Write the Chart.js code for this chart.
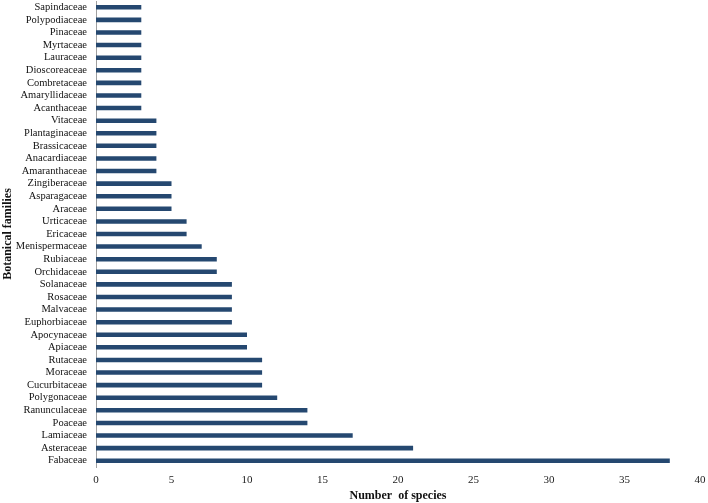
<!DOCTYPE html>
<html>
<head>
<meta charset="utf-8">
<script src="https://cdn.jsdelivr.net/npm/chart.js@4"></script>
<style>
html,body{margin:0;padding:0;background:#fff;}
#wrap{width:708px;height:503px;}
</style>
</head>
<body>
<div id="wrap"><canvas id="c"></canvas></div>
<script>
const families = ["Sapindaceae","Polypodiaceae","Pinaceae","Myrtaceae","Lauraceae","Dioscoreaceae","Combretaceae","Amaryllidaceae","Acanthaceae","Vitaceae","Plantaginaceae","Brassicaceae","Anacardiaceae","Amaranthaceae","Zingiberaceae","Asparagaceae","Araceae","Urticaceae","Ericaceae","Menispermaceae","Rubiaceae","Orchidaceae","Solanaceae","Rosaceae","Malvaceae","Euphorbiaceae","Apocynaceae","Apiaceae","Rutaceae","Moraceae","Cucurbitaceae","Polygonaceae","Ranunculaceae","Poaceae","Lamiaceae","Asteraceae","Fabaceae"];
const species = [3,3,3,3,3,3,3,3,3,4,4,4,4,4,5,5,5,6,6,7,8,8,9,9,9,9,10,10,11,11,11,12,14,14,17,21,38];
const xTicks = [0,5,10,15,20,25,30,35,40];

new Chart(document.getElementById('c'), {
  type: 'bar',
  data: {
    labels: families,
    datasets: [{
      data: species,
      backgroundColor: '#254870',
      borderWidth: 0,
      barPercentage: 0.72,
      categoryPercentage: 0.5
    }]
  },
  options: {
    indexAxis: 'y',
    responsive: true,
    maintainAspectRatio: false,
    animation: false,
    layout: { padding: { top: 1, right: 8, left: 0, bottom: 0 } },
    plugins: { legend: { display: false }, tooltip: { enabled: false } },
    scales: {
      x: {
        min: 0, max: 40,
        afterBuildTicks: s => { s.ticks = xTicks.map(v => ({ value: v })); },
        afterFit: s => { s.height = 36; s.paddingLeft = 0; s.paddingRight = 0; },
        grid: { display: false, drawTicks: false },
        border: { display: false },
        ticks: { color: '#222', padding: 7, font: { family: 'Liberation Serif', size: 11 } },
        title: { display: true, text: 'Number  of species', color: '#111', padding: { top: 0, bottom: 0 }, font: { family: 'Liberation Serif', size: 12, weight: 'bold' } }
      },
      y: {
        afterFit: s => { s.width = 96; s.paddingTop = 0; s.paddingBottom = 0; },
        grid: { display: false, drawTicks: false },
        border: { display: true, color: '#a0a0a0', width: 1 },
        ticks: { color: '#111', padding: 9, autoSkip: false, font: { family: 'Liberation Serif', size: 10.5 } },
        title: { display: true, text: 'Botanical families', color: '#111', padding: { top: 1, bottom: 0 }, font: { family: 'Liberation Serif', size: 12, weight: 'bold' } }
      }
    }
  }
});
</script>
</body>
</html>
